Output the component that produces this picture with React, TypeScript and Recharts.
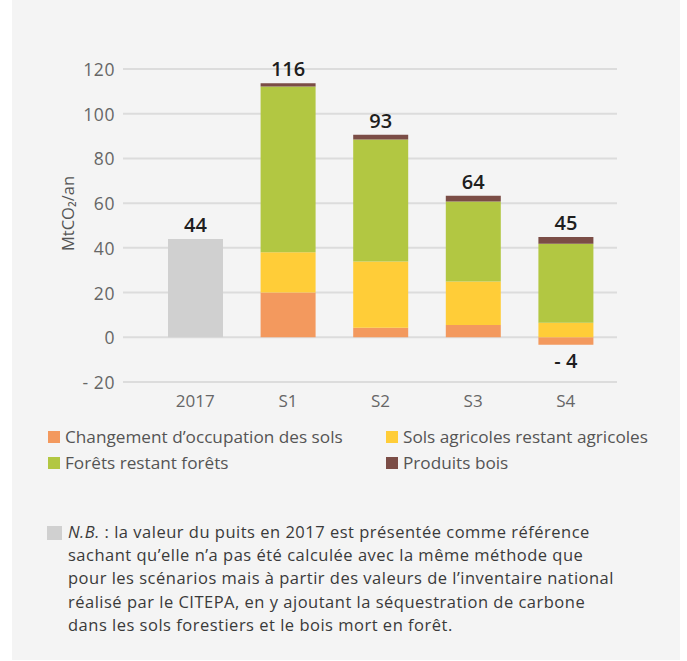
import React from 'react';
import { BarChart, Bar, XAxis, YAxis, CartesianGrid, LabelList } from 'recharts';

// Values (MtCO2/an)
const categories = ['2017', 'S1', 'S2', 'S3', 'S4'];
const reference2017 = [44, 0, 0, 0, 0];
const changementOccupation = [0, 20, 4.3, 5.5, -3.3];
const solsAgricoles = [0, 18, 29.6, 19.4, 6.5];
const foretsRestant = [0, 74.2, 54.6, 35.8, 35.3];
const produitsBois = [0, 1.4, 2.1, 2.6, 3.1];
const totals = [44, 116, 93, 64, 45];
const negativeTotals = [0, 0, 0, 0, -4];
const yTicks = [-20, 0, 20, 40, 60, 80, 100, 120];

const COLORS = {
  reference: '#d0d0d0',
  changement: '#f3995e',
  sols: '#ffcd38',
  forets: '#b2c742',
  bois: '#7b4d46',
};

const legendItems = [
  { name: 'Changement d’occupation des sols', color: COLORS.changement },
  { name: 'Sols agricoles restant agricoles', color: COLORS.sols },
  { name: 'Forêts restant forêts', color: COLORS.forets },
  { name: 'Produits bois', color: COLORS.bois },
];

const data = categories.map((name, i) => ({
  name,
  reference: reference2017[i],
  changement: changementOccupation[i],
  sols: solsAgricoles[i],
  forets: foretsRestant[i],
  bois: produitsBois[i],
}));

const FONT = '"Open Sans", sans-serif';
const fmt = (v: number) => (v < 0 ? `- ${-v}` : `${v}`);

const labelStyle = { fontFamily: FONT, fontSize: 20, fontWeight: 600, fill: '#1e1e1e' };

const boxOf = (props: any) => {
  const vb = props.viewBox ?? props;
  const x = Number(vb.x);
  const y = Number(vb.y);
  const w = Number(vb.width);
  const h = Number(vb.height);
  return { cx: x + w / 2, top: Math.min(y, y + h), bottom: Math.max(y, y + h) };
};

// LabelList is keyed on the category name so the lookup doesn't depend on index
const refLabel = (props: any) => {
  const i = categories.indexOf(String(props.value));
  if (i !== 0) return null;
  const b = boxOf(props);
  return (
    <text x={b.cx} y={b.top - 7} textAnchor="middle" style={labelStyle}>
      {fmt(totals[i])}
    </text>
  );
};

const totalLabel = (props: any) => {
  const i = categories.indexOf(String(props.value));
  if (i <= 0) return null;
  const b = boxOf(props);
  return (
    <text x={b.cx} y={b.top - 7} textAnchor="middle" style={labelStyle}>
      {fmt(totals[i])}
    </text>
  );
};

const negativeLabel = (props: any) => {
  const i = categories.indexOf(String(props.value));
  const v = negativeTotals[i];
  if (!v) return null;
  const b = boxOf(props);
  return (
    <text x={b.cx} y={b.bottom + 23} textAnchor="middle" style={labelStyle}>
      {fmt(v)}
    </text>
  );
};

const axisTitle = (props: any) => {
  const vb = props.viewBox;
  const x = vb.x + 55;
  const y = vb.y + vb.height / 2 - 12;
  return (
    <text
      x={x}
      y={y}
      transform={`rotate(-90 ${x} ${y})`}
      textAnchor="middle"
      dominantBaseline="central"
      style={{ fontFamily: FONT, fontSize: 16.5, fill: '#555' }}
    >
      MtCO₂/an
    </text>
  );
};

const XTick = (props: any) => (
  <text x={props.x} y={props.y + 17} textAnchor="middle" style={{ fontFamily: FONT, fontSize: 17, fill: '#666' }}>
    {props.payload.value}
  </text>
);

const YTick = (props: any) => (
  <text
    x={props.x}
    y={props.y}
    textAnchor="end"
    dominantBaseline="central"
    style={{ fontFamily: FONT, fontSize: 17.5, fill: '#666', letterSpacing: 0.6 }}
  >
    {fmt(props.payload.value)}
  </text>
);

export default function App() {
  return (
    <div
      style={{
        position: 'absolute',
        left: 12,
        top: 0,
        width: 668,
        height: 660,
        background: '#f4f4f4',
        fontFamily: FONT,
      }}
    >
      <BarChart
        width={640}
        height={422}
        data={data}
        stackOffset="sign"
        margin={{ top: 69, right: 35, bottom: 0, left: 0 }}
      >
        <CartesianGrid vertical={false} stroke="#dcdcdc" strokeWidth={2} />
        <XAxis
          dataKey="name"
          axisLine={false}
          tickLine={false}
          height={40}
          padding={{ left: 26, right: 5 }}
          tick={<XTick />}
        />
        <YAxis
          width={111}
          domain={[-20, 120]}
          ticks={yTicks}
          interval={0}
          axisLine={false}
          tickLine={false}
          tick={<YTick />}
          label={{ content: axisTitle }}
        />
        <Bar dataKey="reference" stackId="s" fill={COLORS.reference} barSize={55} isAnimationActive={false}>
          <LabelList dataKey="name" content={refLabel} />
        </Bar>
        <Bar dataKey="changement" stackId="s" fill={COLORS.changement} barSize={55} isAnimationActive={false}>
          <LabelList dataKey="name" content={negativeLabel} />
        </Bar>
        <Bar dataKey="sols" stackId="s" fill={COLORS.sols} barSize={55} isAnimationActive={false} />
        <Bar dataKey="forets" stackId="s" fill={COLORS.forets} barSize={55} isAnimationActive={false} />
        <Bar dataKey="bois" stackId="s" fill={COLORS.bois} barSize={55} isAnimationActive={false}>
          <LabelList dataKey="name" content={totalLabel} />
        </Bar>
      </BarChart>

      <div style={{ position: 'absolute', left: 36, top: 426, width: 630 }}>
        {legendItems.map((item, i) => (
          <div
            key={item.name}
            style={{
              position: 'absolute',
              left: i % 2 === 0 ? 0 : 338,
              top: Math.floor(i / 2) * 26,
              display: 'flex',
              alignItems: 'center',
              fontSize: 17.2,
              color: '#555',
              whiteSpace: 'nowrap',
              lineHeight: '22px',
            }}
          >
            <span style={{ width: 12, height: 12, background: item.color, marginRight: 5, display: 'inline-block' }} />
            {item.name}
          </div>
        ))}
      </div>

      <div style={{ position: 'absolute', left: 35, top: 526, width: 15, height: 14, background: '#d0d0d0' }} />
      <div
        style={{
          position: 'absolute',
          left: 56,
          top: 520,
          width: 612,
          fontFamily: FONT,
          fontSize: 16.5,
          letterSpacing: 0.5,
          lineHeight: '23.2px',
          color: '#3a3a3a',
          whiteSpace: 'nowrap',
        }}
      >
        <i>N.B.</i> : la valeur du puits en 2017 est présentée comme référence
        <br />
        sachant qu’elle n’a pas été calculée avec la même méthode que
        <br />
        pour les scénarios mais à partir des valeurs de l’inventaire national
        <br />
        réalisé par le CITEPA, en y ajoutant la séquestration de carbone
        <br />
        dans les sols forestiers et le bois mort en forêt.
      </div>
    </div>
  );
}
